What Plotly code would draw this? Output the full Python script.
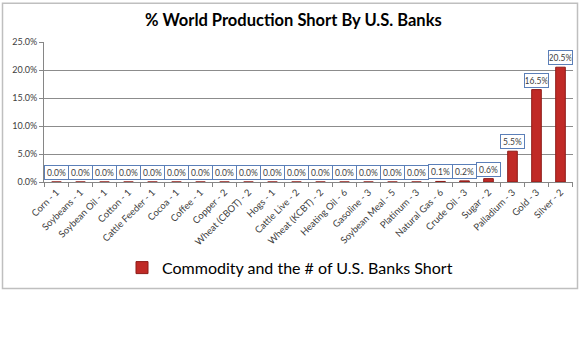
import plotly.graph_objects as go

categories = ["Corn - 1", "Soybeans - 1", "Soybean Oil - 1", "Cotton - 1", "Cattle Feeder - 1",
              "Cocoa - 1", "Coffee - 1", "Copper - 2", "Wheat (CBOT) - 2", "Hogs - 1",
              "Cattle Live - 2", "Wheat (KCBT) - 2", "Heating Oil - 6", "Gasoline - 3",
              "Soybean Meal - 5", "Platinum - 3", "Natural Gas - 6", "Crude Oil - 3",
              "Sugar - 2", "Palladium - 3", "Gold - 3", "Silver - 2"]
values = [0.0, 0.0, 0.0, 0.0, 0.0, 0.0, 0.0, 0.0, 0.0, 0.0, 0.0, 0.0, 0.0, 0.0, 0.0, 0.0,
          0.1, 0.2, 0.6, 5.5, 16.5, 20.5]
y_ticks = [0, 5, 10, 15, 20, 25]
series_name = "Commodity and the # of U.S. Banks Short"
title = "% World Production Short By U.S. Banks"

W, H = 585, 344
L, R, T, B = 44, 12, 41.5, 162
pw, ph = W - L - R, H - T - B

def px_x(x):
    return (x - L) / pw

def px_y(y):
    return (H - B - y) / ph

FONT = "Lato, Open Sans, sans-serif"

fig = go.Figure()
fig.add_trace(go.Bar(
    x=categories, y=values, name=series_name,
    width=0.4,
    marker=dict(color="#C02A26", line=dict(color="#8E1B17", width=1)),
))

for c, v in zip(categories, values):
    fig.add_annotation(
        x=c, y=v, xref="x", yref="y", text=f"{v:.1f}%", showarrow=False,
        yanchor="bottom", yshift=2, width=22, height=12, borderpad=0.5,
        bgcolor="white", bordercolor="#5B7FB8", borderwidth=1,
        font=dict(family=FONT, size=8.5, color="#404040"),
    )

fig.add_annotation(
    x=px_x(293), y=px_y(19), xref="paper", yref="paper", text=f"<b>{title}</b>",
    showarrow=False, xanchor="center", yanchor="middle",
    font=dict(family=FONT, size=16.5, color="black"),
)

fig.add_shape(type="rect", xref="paper", yref="paper",
              x0=px_x(2.5), x1=px_x(577.5), y0=px_y(289), y1=px_y(2.5),
              line=dict(color="#BFBFBF", width=1.5), layer="below")

fig.update_layout(
    width=W, height=H,
    margin=dict(l=L, r=R, t=T, b=B, pad=0),
    paper_bgcolor="white", plot_bgcolor="white",
    bargap=0.6,
    showlegend=True,
    legend=dict(x=px_x(122), y=px_y(268), xanchor="left", yanchor="middle",
                orientation="h", font=dict(family=FONT, size=16, color="black"),
                bgcolor="rgba(0,0,0,0)"),
    xaxis=dict(
        tickangle=-45, tickson="boundaries", ticks="outside", ticklen=4,
        tickcolor="#868686", showline=True, linecolor="#868686", linewidth=1,
        tickfont=dict(family=FONT, size=9.5, color="#404040"),
        showgrid=False,
    ),
    yaxis=dict(
        range=[0, 25], tickvals=y_ticks, ticktext=[f"{t:.1f}%" for t in y_ticks],
        ticks="outside", ticklen=4, tickcolor="#868686",
        showline=True, linecolor="#868686", linewidth=1,
        showgrid=True, gridcolor="#8C8C8C", gridwidth=1,
        tickfont=dict(family=FONT, size=9, color="#404040"),
        zeroline=False,
    ),
)

fig.write_html("out.html")
